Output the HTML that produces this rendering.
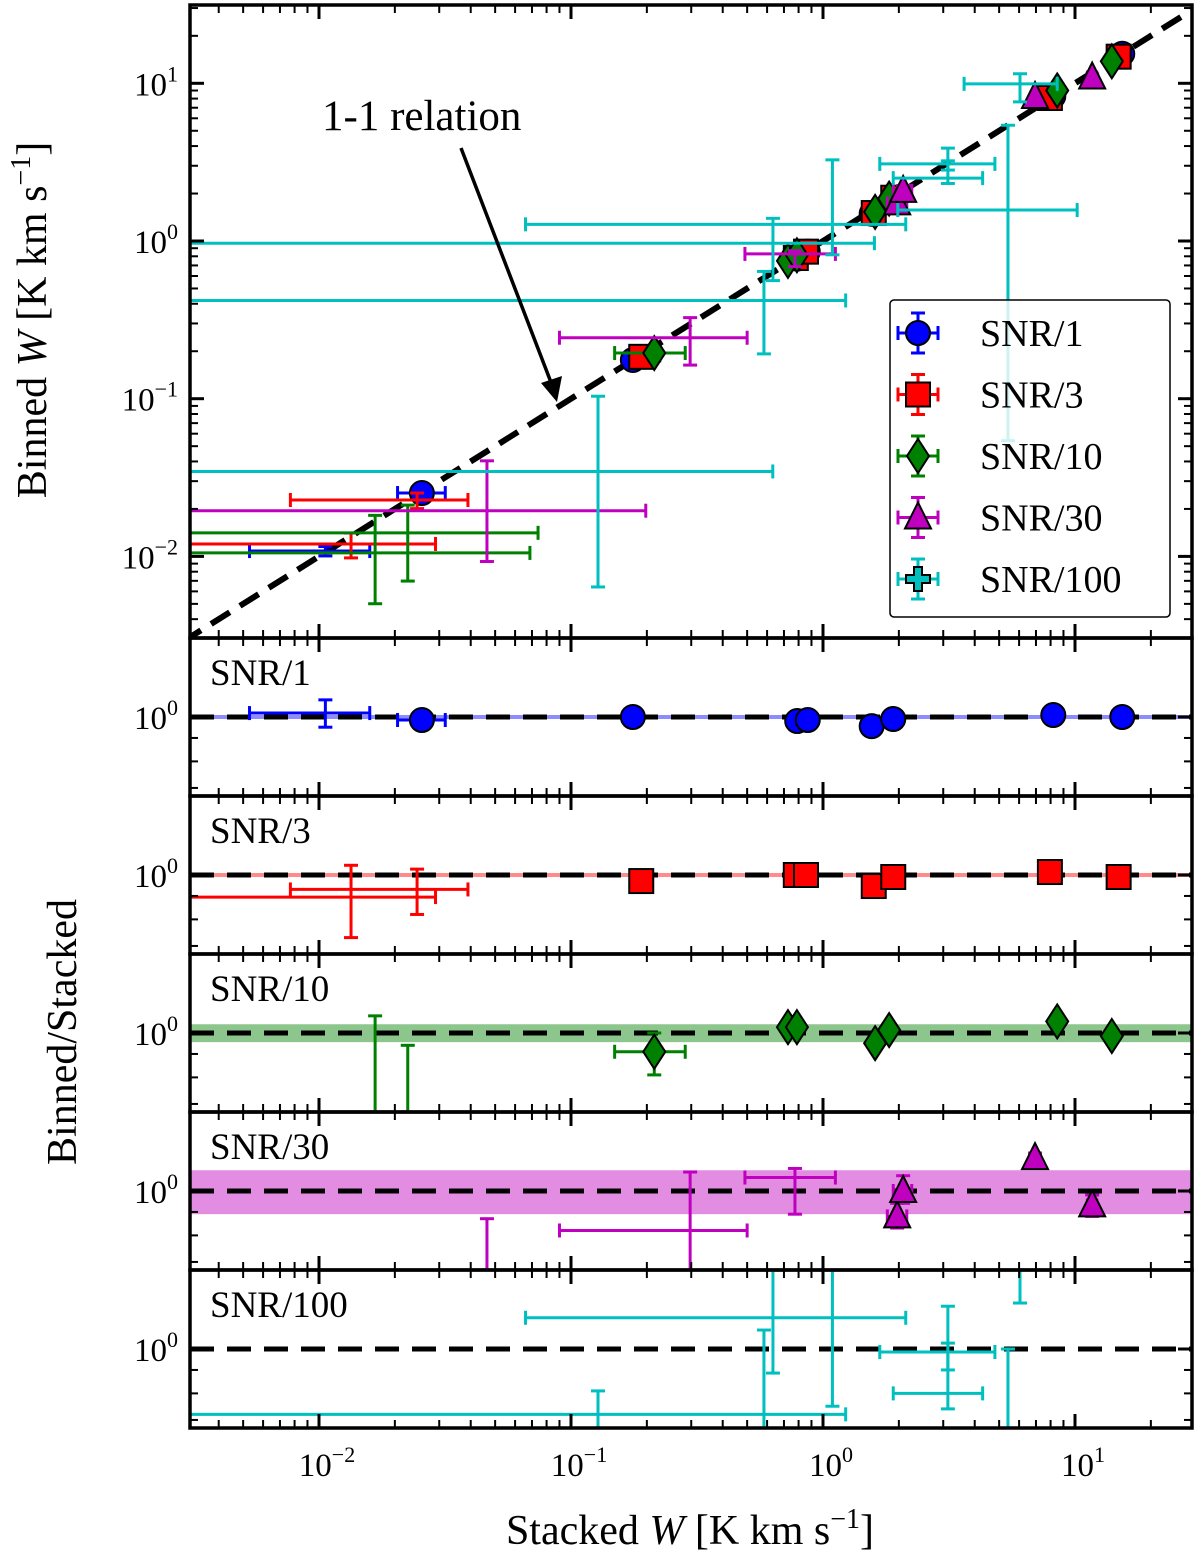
<!DOCTYPE html>
<html><head><meta charset="utf-8"><style>
html,body{margin:0;padding:0;background:#fff;width:1200px;height:1563px;overflow:hidden;}
svg{display:block;font-family:"Liberation Serif","DejaVu Serif",serif;}
text{font-family:"Liberation Serif","DejaVu Serif",serif;}
</style></head><body>
<svg id="chart" width="1200" height="1563" viewBox="0 0 1200 1563" xmlns="http://www.w3.org/2000/svg"></svg>
<script>
// ---- data ----
const seriesNames = ["SNR/1","SNR/3","SNR/10","SNR/30","SNR/100"];
const seriesColors = ["#0000ff","#ff0000","#008000","#bf00bf","#00bfbf"];
const bandColors = ["#8080ff","#ff8080","#80c080","#df80df","#80dfdf"];
const bandHalf = [0.004,0.006,0.045,0.11,0];

const snr1X   = [0.0106,0.0256,0.176,0.79,0.87,1.56,1.90,8.2,15.4];
const snr1XLo = [0.0053,0.0205,0.17,0.77,0.85,1.52,1.85,8.0,15.0];
const snr1XHi = [0.0159,0.0317,0.18,0.81,0.89,1.60,1.95,8.4,15.8];
const snr1R   = [1.02,0.985,1.0,0.98,0.985,0.955,0.99,1.01,1.0];
const snr1RLo = [0.95,0.97,0.99,0.97,0.975,0.945,0.98,1.0,0.99];
const snr1RHi = [1.09,1.0,1.01,0.99,0.995,0.965,1.0,1.02,1.01];
const snr1Mk  = [0,1,1,1,1,1,1,1,1];

const snr3X   = [0.0134,0.0245,0.19,0.78,0.856,1.59,1.9,7.95,14.9];
const snr3XLo = [0.001,0.0077,0.185,0.76,0.84,1.55,1.86,7.8,14.6];
const snr3XHi = [0.029,0.039,0.195,0.80,0.87,1.63,1.94,8.1,15.2];
const snr3R   = [0.895,0.93,0.97,1.0,1.0,0.946,0.99,1.015,0.99];
const snr3RLo = [0.73,0.82,0.96,0.99,0.99,0.935,0.98,1.0,0.98];
const snr3RHi = [1.05,1.03,0.98,1.01,1.01,0.955,1.0,1.03,1.0];
const snr3Mk  = [0,0,1,1,1,1,1,1,1];

const snr10X   = [0.0167,0.0225,0.214,0.726,0.788,1.61,1.83,8.5,14.0];
const snr10XLo = [0.001,0.001,0.149,0.70,0.76,1.56,1.78,8.2,13.6];
const snr10XHi = [0.0687,0.074,0.284,0.75,0.82,1.66,1.88,8.8,14.4];
const snr10R   = [0.63,0.627,0.91,1.03,1.03,0.95,1.015,1.06,0.985];
const snr10RLo = [0.3,0.31,0.81,1.0,1.0,0.93,0.99,1.04,0.97];
const snr10RHi = [1.09,0.94,1.0,1.06,1.06,0.97,1.04,1.08,1.0];
const snr10Mk  = [0,0,1,1,1,1,1,1,1];

const snr30X   = [0.0464,0.297,0.774,1.97,2.08,6.94,11.7];
const snr30XLo = [0.001,0.09,0.49,1.8,1.9,6.7,11.2];
const snr30XHi = [0.198,0.50,1.12,2.15,2.25,7.2,12.2];
const snr30R   = [0.42,0.82,1.07,0.88,1.0,1.18,0.93];
const snr30RLo = [0.2,0.55,0.89,0.83,0.94,1.15,0.88];
const snr30RHi = [0.87,1.1,1.12,0.94,1.08,1.21,0.98];
const snr30Mk  = [0,0,0,1,1,1,1];

const snr100X   = [0.128,5.42,3.13,3.13,1.09,0.633,0.583,6.05];
const snr100XLo = [0.0005,1.98,1.68,1.9,0.066,0.0005,0.0005,3.63];
const snr100XHi = [0.632,10.2,4.81,4.3,2.13,1.6,1.23,8.5];
const snr100R   = [0.27,0.29,0.985,0.80,1.17,1.53,0.72,1.64];
const snr100RLo = [0.05,0.01,0.9,0.74,0.75,0.886,0.33,1.26];
const snr100RHi = [0.81,1.0,1.24,1.03,3.0,2.2,1.1,1.9];
const snr100Mk  = [0,0,0,0,0,0,0,0];

const xTickLabels = ["−2","−1","0","1"];
const mainYTickLabels = ["−2","−1","0","1"];

// ---- geometry ----
const L=190, R=1192;
const X0=823, XD=252;
const X = v => X0 + XD*Math.log10(v);
const MT=5, MB=638, Y0=241, YD=157.7;
const Ym = v => Y0 - YD*Math.log10(v);
const subTops=[638,796,954,1112,1270], subH=158, SD=458;
const Ys = (k,r) => subTops[k]+79 - SD*Math.log10(r);

const svg=document.getElementById('chart');
const NS="http://www.w3.org/2000/svg";
function el(tag,attrs,parent){const e=document.createElementNS(NS,tag);for(const k in attrs)e.setAttribute(k,attrs[k]);(parent||svg).appendChild(e);return e;}

const defs=el('defs',{});
function clip(id,y1,y2){const c=el('clipPath',{id:id},defs);el('rect',{x:L,y:y1,width:R-L,height:y2-y1},c);}
clip('cm',MT,MB);
subTops.forEach((t,k)=>clip('cs'+k,t,t+subH));

const sets=[
 [snr1X,snr1XLo,snr1XHi,snr1R,snr1RLo,snr1RHi,snr1Mk],
 [snr3X,snr3XLo,snr3XHi,snr3R,snr3RLo,snr3RHi,snr3Mk],
 [snr10X,snr10XLo,snr10XHi,snr10R,snr10RLo,snr10RHi,snr10Mk],
 [snr30X,snr30XLo,snr30XHi,snr30R,snr30RLo,snr30RHi,snr30Mk],
 [snr100X,snr100XLo,snr100XHi,snr100R,snr100RLo,snr100RHi,snr100Mk]
];

function marker(k,cx,cy,g){
  const c=seriesColors[k];let m;
  if(k===0) m=el('circle',{cx:cx,cy:cy,r:12,fill:c,stroke:'#000','stroke-width':2},g);
  else if(k===1) m=el('rect',{x:cx-12,y:cy-12,width:24,height:24,fill:c,stroke:'#000','stroke-width':2},g);
  else if(k===2) m=el('polygon',{points:`${cx},${cy-17} ${cx+11},${cy} ${cx},${cy+17} ${cx-11},${cy}`,fill:c,stroke:'#000','stroke-width':2},g);
  else if(k===3) m=el('polygon',{points:`${cx},${cy-15} ${cx+13},${cy+11} ${cx-13},${cy+11}`,fill:c,stroke:'#000','stroke-width':2},g);
  else { m=el('path',{d:`M${cx-4},${cy-12}h8v8h8v8h-8v8h-8v-8h-8v-8h8z`,fill:c,stroke:'#000','stroke-width':2},g); }
  return m;
}
function errbar(g,c,x,y,x1,x2,y1,y2,w){
  el('line',{x1:x1,y1:y,x2:x2,y2:y,stroke:c,'stroke-width':w},g);
  el('line',{x1:x,y1:y1,x2:x,y2:y2,stroke:c,'stroke-width':w},g);
  [x1,x2].forEach(xx=>el('line',{x1:xx,y1:y-7,x2:xx,y2:y+7,stroke:c,'stroke-width':w},g));
  [y1,y2].forEach(yy=>el('line',{x1:x-7,y1:yy,x2:x+7,y2:yy,stroke:c,'stroke-width':w},g));
}

// ---- main panel ----
const gm=el('g',{'clip-path':'url(#cm)'});


const one=el('line',{x1:X(0.001),y1:Ym(0.001),x2:X(100),y2:Ym(100),stroke:'#000','stroke-width':6,'stroke-dasharray':'22 12'},gm);


sets.forEach((s,k)=>{
  const g=el('g',{},gm);
  
  
  const [xs,xl,xh,rs,rl,rh,mk]=s;
  xs.forEach((v,i)=>{
    const cx=X(v), cy=Ym(v*rs[i]);
    errbar(g,seriesColors[k],cx,cy,X(xl[i]),X(xh[i]),Ym(v*rl[i]),Ym(v*rh[i]),3);
  });
  xs.forEach((v,i)=>{ if(mk[i]){const m=marker(k,X(v),Ym(v*rs[i]),g);
    
    }});
});

// annotation
const ann=el('text',{x:322,y:130,'font-size':43,fill:'#000'});
ann.textContent='1-1 relation';


const arr=el('line',{x1:461,y1:148,x2:552,y2:385,stroke:'#000','stroke-width':3.5});


el('polygon',{points:'557,402 541,383 562,376',fill:'#000'});

// ---- sub panels ----
subTops.forEach((t,k)=>{
  const g=el('g',{'clip-path':`url(#cs${k})`});
  
  
  const bh=bandHalf[k];
  if(bh>0){ const b=el('rect',{x:L,y:Ys(k,1+bh),width:R-L,height:Ys(k,1-bh)-Ys(k,1+bh),fill:bandColors[k],opacity:0.9},g);
    if(k<2){b.setAttribute('y',Ys(k,1)-2);b.setAttribute('height',4);}
    
    }
  el('line',{x1:L,y1:Ys(k,1),x2:R,y2:Ys(k,1),stroke:'#000','stroke-width':5,'stroke-dasharray':'24 13'},g);
  const [xs,xl,xh,rs,rl,rh,mk]=sets[k];
  xs.forEach((v,i)=>{ errbar(g,seriesColors[k],X(v),Ys(k,rs[i]),X(xl[i]),X(xh[i]),Ys(k,rl[i]),Ys(k,rh[i]),3); });
  xs.forEach((v,i)=>{ if(mk[i]){const m=marker(k,X(v),Ys(k,rs[i]),g);
    
    }});
  const lab=el('text',{x:210,y:t+47,'font-size':37,fill:'#000'});
  lab.textContent=seriesNames[k];
  
  
});

// ---- ticks & frames ----
function xTicks(top,bot){
  for(let d=-3;d<=1;d++){
    for(let m=1;m<=9;m++){
      const v=m*Math.pow(10,d); if(v<0.0031||v>29.5) continue;
      const x=X(v), len=m===1?14:8, w=m===1?3:2;
      el('line',{x1:x,y1:top,x2:x,y2:top+len,stroke:'#000','stroke-width':w});
      el('line',{x1:x,y1:bot,x2:x,y2:bot-len,stroke:'#000','stroke-width':w});
    }
  }
}
xTicks(MT,MB);
subTops.forEach(t=>xTicks(t,t+subH));
for(let d=-3;d<=1;d++){for(let m=1;m<=9;m++){
  const v=m*Math.pow(10,d), y=Ym(v); if(y<MT||y>MB) continue;
  const len=m===1?14:8,w=m===1?3:2;
  el('line',{x1:L,y1:y,x2:L+len,y2:y,stroke:'#000','stroke-width':w});
  el('line',{x1:R,y1:y,x2:R-len,y2:y,stroke:'#000','stroke-width':w});
}}
subTops.forEach((t,k)=>{
  [1,0.9,0.8,0.7].forEach((v,j)=>{const y=Ys(k,v),len=j===0?14:8,w=j===0?3:2;
    el('line',{x1:L,y1:y,x2:L+len,y2:y,stroke:'#000','stroke-width':w});
    el('line',{x1:R,y1:y,x2:R-len,y2:y,stroke:'#000','stroke-width':w});});
  const tl=el('text',{x:178,y:Ys(k,1)+12,'font-size':33,'text-anchor':'end'});
  tl.innerHTML='10<tspan dy="-14" font-size="22">0</tspan>';
  
  
});
const fr=el('rect',{x:L,y:MT,width:R-L,height:MB-MT,fill:'none',stroke:'#000','stroke-width':3.5});


subTops.forEach(t=>el('rect',{x:L,y:t,width:R-L,height:subH,fill:'none',stroke:'#000','stroke-width':3.5}));

mainYTickLabels.forEach((s,i)=>{
  const tl=el('text',{x:178,y:Ym(Math.pow(10,i-2))+12,'font-size':33,'text-anchor':'end'});
  tl.innerHTML='10<tspan dy="-14" font-size="22">'+s+'</tspan>';
  
  
});
xTickLabels.forEach((s,i)=>{
  const tl=el('text',{x:X(Math.pow(10,i-2))+8,y:1476,'font-size':33,'text-anchor':'middle'});
  tl.innerHTML='10<tspan dy="-14" font-size="22">'+s+'</tspan>';
  
  
});

// axis titles
const yt=el('text',{transform:'translate(46,320) rotate(-90)','font-size':42,'text-anchor':'middle'});
yt.innerHTML='Binned <tspan font-style="italic">W</tspan> [K km s<tspan dy="-16" font-size="28">−1</tspan><tspan dy="16">]</tspan>';


const rt=el('text',{transform:'translate(76,1032) rotate(-90)','font-size':42,'text-anchor':'middle'});
rt.textContent='Binned/Stacked';


const xt=el('text',{x:690,y:1544,'font-size':42,'text-anchor':'middle'});
xt.innerHTML='Stacked <tspan font-style="italic">W</tspan> [K km s<tspan dy="-16" font-size="28">−1</tspan><tspan dy="16">]</tspan>';



// legend
const lg=el('g',{});


el('rect',{x:890,y:300,width:280,height:317,rx:4,fill:'#fff','fill-opacity':0.8,stroke:'#000','stroke-width':1.5},lg);
seriesNames.forEach((n,k)=>{
  const y=333+61.5*k;
  const e=el('g',{},lg);
  
  
  errbar(e,seriesColors[k],918,y,898,938,y-20,y+20,3);
  marker(k,918,y,e);
  const t=el('text',{x:980,y:y+13,'font-size':38},e);
  t.textContent=n;
});
</script>
</body></html>
